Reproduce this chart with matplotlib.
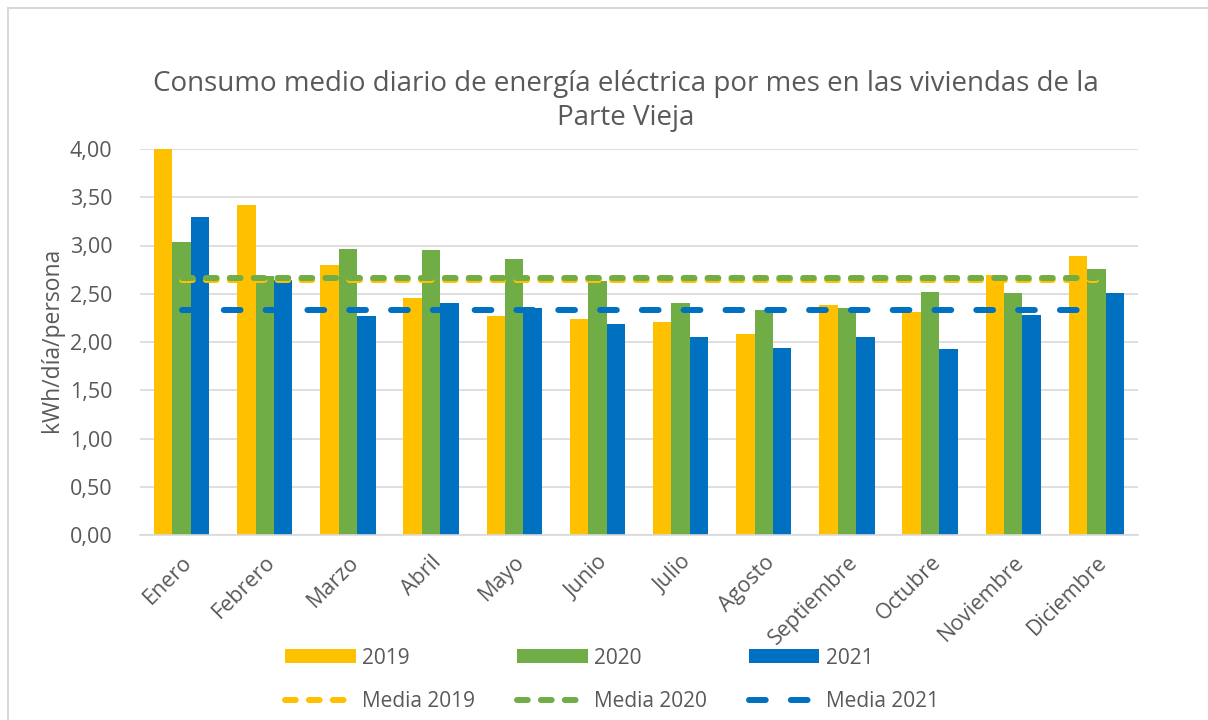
import numpy as np
import matplotlib
matplotlib.use("Agg")
import matplotlib.pyplot as plt
from matplotlib.lines import Line2D

plt.rcParams['font.family'] = ['Open Sans', 'DejaVu Sans']

meses = ['Enero', 'Febrero', 'Marzo', 'Abril', 'Mayo', 'Junio', 'Julio',
         'Agosto', 'Septiembre', 'Octubre', 'Noviembre', 'Diciembre']
v2019 = [4.00, 3.42, 2.80, 2.46, 2.27, 2.24, 2.21, 2.08, 2.38, 2.31, 2.69, 2.89]
v2020 = [3.04, 2.68, 2.96, 2.95, 2.86, 2.63, 2.40, 2.33, 2.35, 2.52, 2.51, 2.76]
v2021 = [3.30, 2.64, 2.27, 2.40, 2.35, 2.19, 2.05, 1.94, 2.05, 1.93, 2.28, 2.51]
media = {'2019': 2.645, '2020': 2.665, '2021': 2.33}
yticks = [0, 0.5, 1.0, 1.5, 2.0, 2.5, 3.0, 3.5, 4.0]

c19, c20, c21 = '#FFC000', '#70AD47', '#0070C0'
gris = '#595959'

fig = plt.figure(figsize=(12.08, 7.2), dpi=100)
ax = fig.add_axes([140/1208, 1 - 535/720, 998/1208, 386/720])

x = np.arange(len(meses))
w = 0.222
b1 = ax.bar(x - w, v2019, w, color=c19, label='2019', zorder=2)
b2 = ax.bar(x, v2020, w, color=c20, label='2020', zorder=2)
b3 = ax.bar(x + w, v2021, w, color=c21, label='2021', zorder=2)

lw = 4.3
l1, = ax.plot(x, [media['2019']] * len(x), color=c19, lw=lw,
              ls=(0, (1.8, 2.2)), dash_capstyle='round', zorder=3, label='Media 2019')
l2, = ax.plot(x, [media['2020']] * len(x), color=c20, lw=lw,
              ls=(0, (1.8, 2.2)), dash_capstyle='round', zorder=4, label='Media 2020')
l3, = ax.plot(x, [media['2021']] * len(x), color=c21, lw=lw,
              ls=(0, (2.8, 4.2)), dash_capstyle='round', zorder=4, label='Media 2021')

ax.set_xlim(-0.5, len(meses) - 0.5)
ax.set_ylim(0, 4)
ax.set_yticks(yticks)
ax.set_yticklabels([f'{v:.2f}'.replace('.', ',') for v in yticks], fontsize=15.5, color=gris)
ax.set_xticks(x)
ax.set_xticklabels(meses, rotation=45, ha='right', rotation_mode='anchor',
                   fontsize=15.5, color=gris)
ax.tick_params(axis='both', length=0)
ax.tick_params(axis='y', pad=20)
ax.tick_params(axis='x', pad=12)
ax.grid(axis='y', color='#D9D9D9', lw=1.2, zorder=0)
for s in ['top', 'right', 'left']:
    ax.spines[s].set_visible(False)
ax.spines['bottom'].set_color('#D9D9D9')
ax.spines['bottom'].set_linewidth(1.2)

fig.text(626/1208, 1 - 101/720,
         'Consumo medio diario de energía eléctrica por mes en las viviendas de la\nParte Vieja',
         ha='center', va='center', fontsize=20, color=gris, linespacing=1.3)
fig.text(52/1208, 1 - 340/720, 'kWh/día/persona', rotation=90,
         ha='center', va='center', fontsize=16.5, color=gris)

handles = [b1, l1, b2, l2, b3, l3]
fig.legend(handles, [h.get_label() for h in handles], ncol=3, loc='center',
           bbox_to_anchor=(612/1208, 1 - 680/720), frameon=False, fontsize=15,
           handlelength=3.4, handleheight=0.62, handletextpad=0.3,
           columnspacing=2.0, labelspacing=1.1, labelcolor=gris)

# marco del area del grafico
fig.add_artist(Line2D([8/1208, 8/1208], [0, 1 - 8/720], color='#D9D9D9', lw=1.5,
                      transform=fig.transFigure))
fig.add_artist(Line2D([8/1208, 1], [1 - 8/720, 1 - 8/720], color='#D9D9D9', lw=1.5,
                      transform=fig.transFigure))

fig.savefig('out.png', dpi=100)
plt.close(fig)
